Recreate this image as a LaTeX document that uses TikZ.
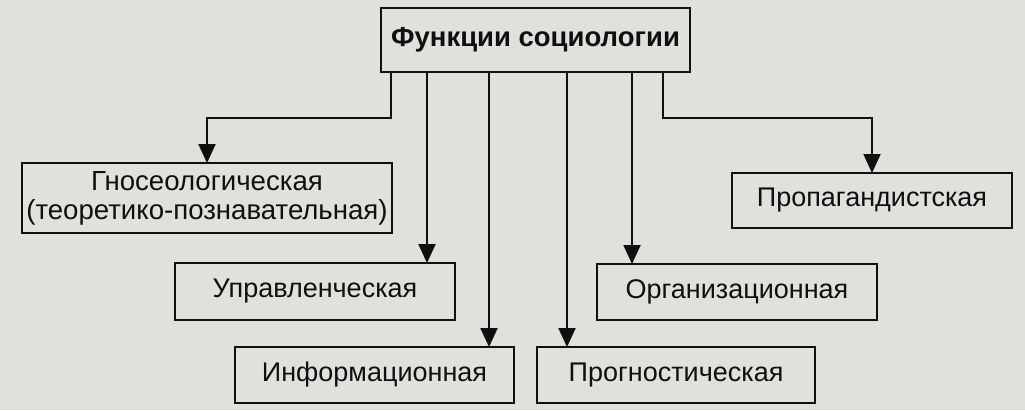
\documentclass[tikz,border=0pt]{standalone}
\usepackage{fontspec}
\setmainfont{Liberation Sans}
\usetikzlibrary{arrows.meta}
\definecolor{paper}{RGB}{224,224,221}
\definecolor{ink}{RGB}{15,15,15}
\tikzset{
  box/.style={draw=ink, line width=1.9pt, rectangle, inner sep=0pt, align=center,
    font=\fontsize{27}{29}\selectfont, text=ink},
  conn/.style={draw=ink, line width=1.9pt},
  arr/.style={conn, -{Triangle[length=19pt,width=17pt]}, shorten >=-1pt},
}
\begin{document}
\begin{tikzpicture}[x=1pt,y=-1pt]
\fill[paper] (0,0) rectangle (1025,410);
\useasboundingbox (0,0) rectangle (1025,410);
\node[box, minimum width=309pt, minimum height=64pt, font=\fontsize{27.5}{30}\selectfont\bfseries] (top) at (535.5,40) {Функции социологии};
\node[box, minimum width=370pt, minimum height=70pt, font=\fontsize{27.6}{29}\selectfont] (gno) at (207,198) {Гносеологическая\\(теоретико-познавательная)};
\node[box, minimum width=280pt, minimum height=55pt] (pro) at (872,200.5) {Пропагандистская};
\node[box, minimum width=280pt, minimum height=57pt] (upr) at (315,291.5) {Управленческая};
\node[box, minimum width=280pt, minimum height=56pt] (org) at (737,292) {Организационная};
\node[box, minimum width=279pt, minimum height=56pt] (inf) at (374.5,375) {Информационная};
\node[box, minimum width=278pt, minimum height=56pt] (prg) at (676,375) {Прогностическая};
\coordinate (bl) at (391,118);
\coordinate (br) at (663,118);
\draw[arr] (top.south -| bl) -- (bl) -| (gno.north);
\draw[arr] (top.south -| br) -- (br) -| (pro.north);
\coordinate (xu) at (427,0);
\coordinate (xi) at (489,0);
\coordinate (xp) at (567,0);
\coordinate (xo) at (632,0);
\draw[arr] (top.south -| xu) -- (upr.north -| xu);
\draw[arr] (top.south -| xi) -- (inf.north -| xi);
\draw[arr] (top.south -| xp) -- (prg.north -| xp);
\draw[arr] (top.south -| xo) -- (org.north -| xo);
\end{tikzpicture}
\end{document}
